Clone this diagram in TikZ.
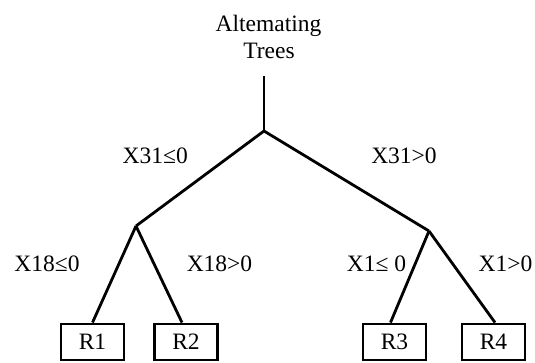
\documentclass[tikz,border=0pt]{standalone}
\usepackage{fontspec}
\setmainfont{Liberation Serif}
\begin{document}
\begin{tikzpicture}[x=1pt,y=-1pt,
  lbl/.style={anchor=base,inner sep=0pt,font=\fontsize{23.5}{26}\selectfont},
  leaf/.style={draw,line width=2.4pt,minimum width=63pt,minimum height=36.5pt,inner sep=0pt,font=\fontsize{23.5}{26}\selectfont},
  edge/.style={line width=2.8pt}]
\useasboundingbox (0,0) rectangle (535,363);
\node[lbl] (t1) at (268.5,31.7) {Altemating};
\node[lbl] (t2) at (269,59) {Trees};
\coordinate (top) at (264,76);
\coordinate (f0) at (264,131);
\coordinate (fl) at (136,226);
\coordinate (fr) at (429,231);
\node[leaf] (r1) at (92.5,342) {R1};
\node[leaf] (r2) at (186,342) {R2};
\node[leaf] (r3) at (394.5,342) {R3};
\node[leaf] (r4) at (493.5,342) {R4};
\node[lbl] (l1) at (155.3,164) {X31≤0};
\node[lbl] (l2) at (404,164) {X31>0};
\node[lbl] (l3) at (47,271.7) {X18≤0};
\node[lbl] (l4) at (219.5,271.7) {X18>0};
\node[lbl] (l5) at (376.5,271) {X1≤ 0};
\node[lbl] (l6) at (505.5,271) {X1>0};
\draw[edge] (top) -- (f0);
\draw[edge] (f0) -- (fl);
\draw[edge] (f0) -- (fr);
\draw[edge] (fl) -- (r1.north);
\draw[edge] (fl) -- ([xshift=-4pt]r2.north);
\draw[edge] (fr) -- ([xshift=-4pt]r3.north);
\draw[edge] (fr) -- ([xshift=1.5pt]r4.north);
\end{tikzpicture}
\end{document}
